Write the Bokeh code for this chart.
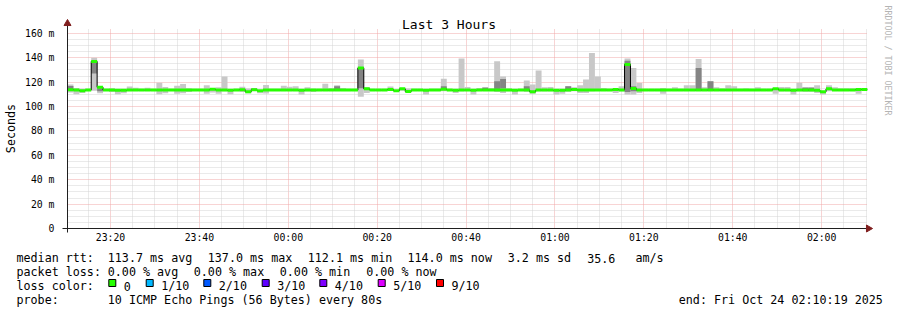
import math
from bokeh.plotting import figure
from bokeh.models import Range1d, FixedTicker
from bokeh.core.properties import value
from bokeh.embed import file_html
from bokeh.resources import INLINE

# ---------------- data ----------------
chart_title = "Last 3 Hours"
y_axis_title = "Seconds"
start_clock = "23:10:19"
span_seconds = 10800
step_seconds = 80
x_tick_labels = ["23:20", "23:40", "00:00", "00:20", "00:40", "01:00", "01:20", "01:40", "02:00"]
y_tick_values = [0, 20, 40, 60, 80, 100, 120, 140, 160]
y_tick_labels = ["0", "20 m", "40 m", "60 m", "80 m", "100 m", "120 m", "140 m", "160 m"]

median_ms = [
    113.8, 113.5, 113.0, 113.5, 137.0, 115.8, 113.5, 113.5, 113.3, 113.3,
    113.5, 113.5, 113.5, 113.5, 113.5, 113.5, 113.5, 113.5, 113.5, 113.5,
    113.5, 113.5, 113.5, 113.5, 114.2, 113.5, 113.5, 113.3, 113.5, 113.8,
    112.1, 113.8, 113.0, 113.5, 113.5, 113.5, 113.5, 113.5, 113.5, 113.3,
    113.5, 113.5, 113.5, 113.5, 113.5, 113.5, 113.5, 113.5, 113.5, 131.7,
    114.5, 113.5, 113.5, 113.5, 114.0, 113.0, 114.5, 112.3, 113.5, 113.5,
    113.3, 113.5, 113.5, 114.2, 113.5, 113.3, 113.5, 113.5, 113.3, 113.5,
    113.5, 113.5, 113.5, 113.5, 113.5, 113.3, 113.5, 113.5, 112.1, 113.5,
    113.5, 113.5, 113.3, 113.3, 113.5, 114.0, 113.5, 113.5, 113.5, 113.5,
    113.5, 113.5, 114.0, 113.5, 134.5, 114.8, 113.5, 113.5, 113.5, 113.5,
    113.5, 113.5, 113.5, 113.5, 113.5, 113.5, 113.5, 113.5, 113.5, 113.5,
    113.5, 113.5, 113.5, 113.5, 113.5, 113.5, 113.5, 113.5, 113.5, 114.5,
    113.5, 113.5, 113.3, 113.5, 113.5, 113.5, 113.4, 112.1, 114.5, 113.5,
    113.5, 113.5, 113.5, 114.0, 114.0,
]
smoke_lo = [
    111.5, 110.0, 111.2, 113.0, 113.0, 111.0, 113.0, 112.0, 110.0, 111.0,
    113.0, 113.0, 113.0, 113.0, 113.0, 110.0, 111.0, 113.0, 110.4, 111.0,
    112.0, 113.0, 113.0, 110.4, 111.5, 110.4, 112.6, 110.0, 113.0, 112.0,
    111.0, 113.0, 111.0, 110.6, 113.0, 113.0, 113.0, 113.0, 113.0, 109.8,
    112.6, 112.0, 113.0, 113.0, 113.0, 113.0, 113.0, 113.0, 113.0, 108.0,
    111.2, 113.0, 113.0, 113.0, 113.0, 112.5, 113.0, 112.0, 113.0, 113.0,
    109.8, 113.0, 113.0, 112.6, 113.0, 111.2, 112.6, 113.0, 109.8, 113.0,
    113.0, 113.0, 112.0, 111.2, 112.6, 109.8, 113.0, 112.6, 110.4, 112.6,
    112.6, 112.6, 109.8, 110.4, 112.6, 112.6, 111.2, 111.2, 112.6, 113.0,
    113.0, 113.0, 111.2, 112.6, 109.8, 109.8, 111.2, 113.0, 113.0, 113.0,
    110.4, 113.0, 113.0, 113.0, 113.0, 113.0, 113.0, 113.0, 113.0, 113.0,
    113.0, 113.0, 113.0, 113.0, 113.0, 113.0, 113.0, 113.0, 113.0, 110.4,
    112.6, 112.6, 109.8, 112.6, 112.6, 112.6, 111.2, 109.8, 112.6, 113.0,
    113.0, 113.0, 113.0, 110.4, 113.0,
]
smoke_hi = [
    118.0, 115.3, 114.5, 114.0, 140.0, 116.5, 114.0, 115.0, 114.0, 114.0,
    116.5, 115.5, 114.0, 115.5, 114.0, 119.5, 116.0, 114.0, 117.0, 118.5,
    115.0, 114.0, 114.0, 117.4, 114.5, 115.8, 124.6, 114.0, 114.0, 116.3,
    114.8, 114.8, 113.5, 117.6, 114.0, 114.0, 117.0, 116.2, 116.7, 113.5,
    115.8, 114.5, 114.0, 118.7, 115.3, 117.5, 115.3, 114.0, 114.0, 138.5,
    115.8, 114.0, 114.0, 114.0, 116.5, 113.5, 115.3, 114.8, 114.0, 114.0,
    113.5, 114.0, 114.0, 122.7, 114.0, 113.5, 139.4, 116.1, 113.5, 115.3,
    116.1, 115.3, 137.2, 124.6, 114.8, 113.5, 114.0, 121.3, 118.0, 129.5,
    115.8, 116.1, 113.5, 113.5, 116.7, 115.8, 117.5, 122.1, 144.0, 124.6,
    115.3, 114.0, 114.8, 116.7, 139.4, 131.7, 119.4, 114.0, 114.0, 114.0,
    115.3, 114.0, 115.8, 114.0, 117.5, 117.5, 138.9, 115.8, 120.8, 115.8,
    114.8, 117.5, 116.7, 114.0, 114.8, 114.0, 115.8, 114.0, 114.0, 114.8,
    116.1, 116.1, 113.5, 119.6, 116.1, 116.1, 117.5, 112.6, 117.5, 115.8,
    114.8, 114.8, 114.8, 114.8, 115.3,
]
N = None
smoke_dark_lo = [
    113.8, N, N, N, 127.0, 112.5, N, N, N, N,
    N, N, N, N, N, N, N, N, N, N,
    N, N, N, N, N, N, N, N, N, N,
    N, 113.8, N, N, N, N, N, N, N, N,
    N, N, N, N, N, 113.5, N, N, N, 115.0,
    N, N, N, N, N, N, N, N, N, N,
    N, N, N, 113.5, N, N, N, N, N, N,
    113.5, N, 113.0, 114.8, N, N, N, 112.6, N, N,
    N, N, N, N, 112.6, N, N, N, N, N,
    N, N, N, N, 112.0, 112.6, N, N, N, N,
    N, N, N, N, N, N, 113.0, N, 113.0, N,
    N, N, N, N, N, N, N, N, N, N,
    N, N, N, N, 112.6, 112.6, N, N, N, N,
    N, N, N, N, N,
]
smoke_dark_hi = [
    116.9, N, N, N, 136.0, 115.0, N, N, N, N,
    N, N, N, N, N, N, N, N, N, N,
    N, N, N, N, N, N, N, N, N, N,
    N, 114.8, N, N, N, N, N, N, N, N,
    N, N, N, N, N, 116.7, N, N, N, 132.0,
    N, N, N, N, N, N, N, N, N, N,
    N, N, N, 116.7, N, N, N, N, N, N,
    115.5, N, 120.8, 122.5, N, N, N, 116.7, N, N,
    N, N, N, N, 116.7, N, N, N, N, N,
    N, N, N, N, 137.5, 116.7, N, N, N, N,
    N, N, N, N, N, N, 131.7, N, 120.8, N,
    N, N, N, N, N, N, N, N, N, N,
    N, N, N, N, 115.5, 115.5, N, N, N, N,
    N, N, N, N, N,
]

rtt_label = "median rtt:"
rtt_stats = ["113.7 ms avg", "137.0 ms max", "112.1 ms min", "114.0 ms now", "3.2 ms sd", "35.6", "am/s"]
loss_label = "packet loss:"
loss_stats = ["0.00 % avg", "0.00 % max", "0.00 % min", "0.00 % now"]
color_label = "loss color:"
loss_names = ["0", "1/10", "2/10", "3/10", "4/10", "5/10", "9/10"]
loss_colors = ["#26ff00", "#00b8ff", "#0059ff", "#5e00ff", "#7e00ff", "#dd00ff", "#ff0000"]
probe_label = "probe:"
probe_text = "10 ICMP Echo Pings (56 Bytes) every 80s"
end_text = "end: Fri Oct 24 02:10:19 2025"
credit_text = "RRDTOOL / TOBI OETIKER"

# ---------------- layout ----------------
W, H = 897, 310
FL, FR, FT, FB = 67, 867, 28, 228
Y_MAX = 164.0
MONO = "DejaVu Sans Mono"


def sx(px):
    return (px - FL) / (FR - FL) * span_seconds


def sy(py):
    return (FB - py) / (FB - FT) * Y_MAX


def clock_seconds(txt):
    parts = [int(v) for v in txt.split(":")]
    while len(parts) < 3:
        parts.append(0)
    return parts[0] * 3600 + parts[1] * 60 + parts[2]


t0 = clock_seconds(start_clock)
x_ticks = [(clock_seconds(l) - t0) % 86400 for l in x_tick_labels]
first_minor = (300 - t0 % 300) % 300
x_minor = [t for t in range(first_minor, span_seconds, 300) if t not in x_ticks]
y_minor = [v for v in range(0, int(Y_MAX), 5) if v not in y_tick_values]

p = figure(width=W, height=H, x_range=Range1d(0, span_seconds), y_range=Range1d(0, Y_MAX),
           output_backend="svg", toolbar_location=None,
           min_border_left=FL, min_border_right=W - FR, min_border_top=FT, min_border_bottom=H - FB)
p.outline_line_color = None
p.background_fill_color = "white"
p.border_fill_color = "white"

p.xaxis.ticker = FixedTicker(ticks=x_ticks, minor_ticks=x_minor)
p.xaxis.major_label_overrides = {t: l for t, l in zip(x_ticks, x_tick_labels)}
p.yaxis.ticker = FixedTicker(ticks=y_tick_values, minor_ticks=y_minor)
p.yaxis.major_label_overrides = {t: l for t, l in zip(y_tick_values, y_tick_labels)}
for ax in (p.xaxis, p.yaxis):
    ax.axis_line_color = None
    ax.major_tick_line_color = None
    ax.minor_tick_line_color = None
    ax.major_label_text_font = MONO
    ax.major_label_text_font_size = "9.8px"
    ax.major_label_text_color = "#000000"
p.xaxis.major_label_standoff = -3
p.yaxis.major_label_standoff = 7

for g in (p.xgrid, p.ygrid):
    g.grid_line_color = "#f0a8a8"
    g.grid_line_dash = "1 1"
    g.minor_grid_line_color = "#d4d4d4"
    g.minor_grid_line_dash = "1 1"

n = len(median_ms)
left = [i * step_seconds for i in range(n)]
right = [(i + 1) * step_seconds for i in range(n)]

# smoke
p.quad(left=left, right=right, bottom=smoke_lo, top=smoke_hi,
       fill_color="#c8c8c8", line_color=None)
dk = [i for i in range(n) if smoke_dark_lo[i] is not None]
p.quad(left=[left[i] for i in dk], right=[right[i] for i in dk],
       bottom=[smoke_dark_lo[i] for i in dk], top=[smoke_dark_hi[i] for i in dk],
       fill_color="#848484", line_color=None)

# median line
p.step(x=left + [span_seconds], y=median_ms + [median_ms[-1]], mode="after",
       line_color="#000000", line_width=1)
p.segment(x0=left, y0=median_ms, x1=right, y1=median_ms,
          line_color=loss_colors[0], line_width=3, line_cap="butt")

# axes with arrows
p.segment(x0=[sx(62), sx(FL)], y0=[0, sy(232)], x1=[sx(866), sx(FL)], y1=[0, sy(25)],
          line_color="#1f1f1f", line_width=1, level="overlay")
p.scatter(x=[sx(868), sx(FL)], y=[0, sy(23)], marker="triangle", size=7,
          angle=[-math.pi / 2, 0], fill_color="#801f1f", line_color="#801f1f", level="overlay")

# y axis title
p.text(x=[sx(10)], y=[sy(128)], text=[y_axis_title], angle=math.pi / 2,
       text_align="center", text_baseline="middle", text_font=value(MONO),
       text_font_size="11.7px", text_color="#000000", level="overlay")

# title
p.text(x=[sx(448.5)], y=[sy(24)], text=[chart_title], text_align="center",
       text_baseline="alphabetic", text_font=value(MONO), text_font_size="13px",
       text_color="#000000", level="overlay")

# credit
p.text(x=[sx(887.5)], y=[sy(5)], text=[credit_text], angle=-math.pi / 2,
       text_align="left", text_baseline="middle", text_font=value(MONO),
       text_font_size="8.3px", text_color="#b4b4b4", level="overlay")

# legend
row_base = [257.7, 271.7, 285.7, 299.7]
tx, ty, tt = [], [], []


def add(px, py, s):
    tx.append(sx(px)); ty.append(sy(py)); tt.append(s)


add(16, row_base[0], rtt_label)
for px, s in zip([107.3, 207.3, 307.3, 407.0, 507.3, 586.7, 635.0], rtt_stats):
    add(px, row_base[0], s)
add(16, row_base[1], loss_label)
for px, s in zip([107.3, 193.3, 279.3, 365.7], loss_stats):
    add(px, row_base[1], s)
add(16, row_base[2], color_label)
box_left = [108.3, 145.7, 203.3, 261.7, 319.3, 377.7, 436.0]
for px, s in zip(box_left, loss_names):
    add(px + 15, row_base[2], s)
add(16, row_base[3], probe_label)
add(107.3, row_base[3], probe_text)
add(678.3, row_base[3], end_text)

p.text(x=tx, y=ty, text=tt, text_align="left", text_baseline="alphabetic",
       text_font=value(MONO), text_font_size="11.7px", text_color="#000000", level="overlay")

p.quad(left=[sx(b) for b in box_left], right=[sx(b + 7) for b in box_left],
       top=[sy(279)] * len(box_left), bottom=[sy(286)] * len(box_left),
       fill_color=loss_colors, line_color="#000000", line_width=1, level="overlay")

open("out.html", "w").write(file_html(p, INLINE))
